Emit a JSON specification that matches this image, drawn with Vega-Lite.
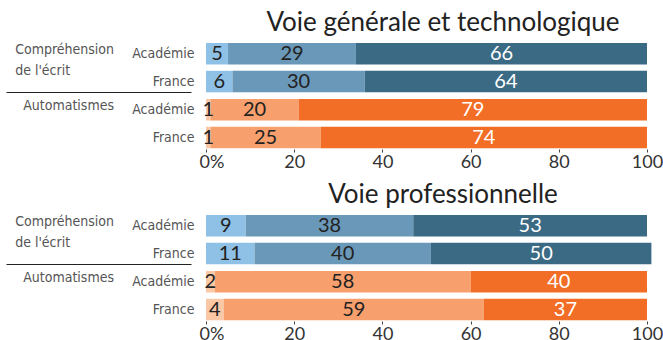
{
  "$schema": "https://vega.github.io/schema/vega-lite/v6.json",
  "background": "white",
  "padding": {"left": 5, "top": 10, "right": 0, "bottom": 0},
  "spacing": 11,
  "config": {
    "view": {"stroke": null},
    "font": "Lato",
    "axisX": {
      "domain": false,
      "grid": false,
      "tickColor": "#444",
      "tickSize": 3,
      "labelFontSize": 18,
      "labelColor": "#333",
      "labelPadding": 1,
      "labelFont": "Lato"
    }
  },
  "datasets": {
    "gt": [
      {"group": "Compréhension de l'écrit", "row": "Compréhension de l'écrit|Académie", "level": 1, "cat": "c1", "value": 5},
      {"group": "Compréhension de l'écrit", "row": "Compréhension de l'écrit|Académie", "level": 2, "cat": "c2", "value": 29},
      {"group": "Compréhension de l'écrit", "row": "Compréhension de l'écrit|Académie", "level": 3, "cat": "c3", "value": 66},
      {"group": "Compréhension de l'écrit", "row": "Compréhension de l'écrit|France", "level": 1, "cat": "c1", "value": 6},
      {"group": "Compréhension de l'écrit", "row": "Compréhension de l'écrit|France", "level": 2, "cat": "c2", "value": 30},
      {"group": "Compréhension de l'écrit", "row": "Compréhension de l'écrit|France", "level": 3, "cat": "c3", "value": 64},
      {"group": "Automatismes", "row": "Automatismes|Académie", "level": 1, "cat": "a1", "value": 1},
      {"group": "Automatismes", "row": "Automatismes|Académie", "level": 2, "cat": "a2", "value": 20},
      {"group": "Automatismes", "row": "Automatismes|Académie", "level": 3, "cat": "a3", "value": 79},
      {"group": "Automatismes", "row": "Automatismes|France", "level": 1, "cat": "a1", "value": 1},
      {"group": "Automatismes", "row": "Automatismes|France", "level": 2, "cat": "a2", "value": 25},
      {"group": "Automatismes", "row": "Automatismes|France", "level": 3, "cat": "a3", "value": 74}
    ],
    "pro": [
      {"group": "Compréhension de l'écrit", "row": "Compréhension de l'écrit|Académie", "level": 1, "cat": "c1", "value": 9},
      {"group": "Compréhension de l'écrit", "row": "Compréhension de l'écrit|Académie", "level": 2, "cat": "c2", "value": 38},
      {"group": "Compréhension de l'écrit", "row": "Compréhension de l'écrit|Académie", "level": 3, "cat": "c3", "value": 53},
      {"group": "Compréhension de l'écrit", "row": "Compréhension de l'écrit|France", "level": 1, "cat": "c1", "value": 11},
      {"group": "Compréhension de l'écrit", "row": "Compréhension de l'écrit|France", "level": 2, "cat": "c2", "value": 40},
      {"group": "Compréhension de l'écrit", "row": "Compréhension de l'écrit|France", "level": 3, "cat": "c3", "value": 50},
      {"group": "Automatismes", "row": "Automatismes|Académie", "level": 1, "cat": "a1", "value": 2},
      {"group": "Automatismes", "row": "Automatismes|Académie", "level": 2, "cat": "a2", "value": 58},
      {"group": "Automatismes", "row": "Automatismes|Académie", "level": 3, "cat": "a3", "value": 40},
      {"group": "Automatismes", "row": "Automatismes|France", "level": 1, "cat": "a1", "value": 4},
      {"group": "Automatismes", "row": "Automatismes|France", "level": 2, "cat": "a2", "value": 59},
      {"group": "Automatismes", "row": "Automatismes|France", "level": 3, "cat": "a3", "value": 37}
    ]
  },
  "vconcat": [
    {
      "title": {"text": "Voie générale et technologique", "fontSize": 26, "fontWeight": "normal", "color": "#222", "anchor": "middle", "dx": 109, "offset": 0},
      "data": {"name": "gt"},
      "transform": [
        {"stack": "value", "groupby": ["row"], "sort": [{"field": "level"}], "as": ["v0", "v1"]},
        {"calculate": "(datum.v0 + datum.v1) / 2", "as": "mid"}
      ],
      "facet": {
        "row": {
          "field": "group", "type": "nominal",
          "sort": ["Compréhension de l'écrit", "Automatismes"],
          "title": null,
          "header": {
            "labelOrient": "left", "labelAngle": 0, "labelAlign": "left", "labelAnchor": "end", "labelBaseline": "top",
            "labelFont": "DejaVu Sans Condensed, Liberation Sans", "labelFontSize": 14, "labelColor": "#555", "labelPadding": 92,
            "labelLineHeight": 21,
            "labelExpr": "datum.value == \"Compréhension de l'écrit\" ? ['Compréhension', \"de l'écrit\"] : datum.value"
          }
        }
      },
      "spacing": {"row": 6},
      "bounds": "flush",
      "resolve": {"scale": {"y": "independent"}},
      "spec": {
        "width": 441,
        "height": 49.3,
        "encoding": {
          "y": {
            "field": "row", "type": "nominal", "title": null,
            "scale": {"paddingInner": 0.227, "paddingOuter": 0},
            "axis": {
              "domain": false, "tickBand": "extent", "tickSize": 185, "offset": 15, "labelPadding": -188,
              "tickColor": "#222", "tickWidth": 1.2,
              "tickOpacity": {"condition": {"test": "datum.value == \"Compréhension de l'écrit|France\"", "value": 1}, "value": 0},
              "labelAlign": "right", "labelFont": "DejaVu Sans Condensed, Liberation Sans", "labelFontSize": 14, "labelColor": "#555",
              "labelExpr": "split(datum.value, '|')[1]"
            }
          }
        },
        "layer": [
          {
            "mark": {"type": "bar"},
            "encoding": {
              "x": {
                "field": "v0", "type": "quantitative", "title": null,
                "scale": {"domain": [0, 100], "nice": false},
                "axis": {
                  "values": [0, 20, 40, 60, 80, 100],
                  "labelExpr": "datum.value == 0 ? '0%' : datum.label",
                  "labelAlign": {"condition": {"test": "datum.value == 0", "value": "left"}, "value": "center"},
                  "labelOffset": {"condition": {"test": "datum.value == 0", "value": -7}, "value": 0}
                }
              },
              "x2": {"field": "v1"},
              "color": {
                "field": "cat", "type": "nominal", "legend": null,
                "scale": {"domain": ["c1", "c2", "c3", "a1", "a2", "a3"], "range": ["#8fc0e6", "#6a98b8", "#3b6a84", "#fbc8a5", "#f8a06d", "#f26e26"]}
              }
            }
          },
          {
            "mark": {"type": "text", "fontSize": 20, "font": "Lato"},
            "encoding": {
              "x": {"field": "mid", "type": "quantitative"},
              "text": {"field": "value", "type": "quantitative"},
              "color": {"condition": {"test": "datum.level == 3", "value": "white"}, "value": "#222"}
            }
          }
        ]
      }
    },
    {
      "title": {"text": "Voie professionnelle", "fontSize": 26, "fontWeight": "normal", "color": "#222", "anchor": "middle", "dx": 109, "offset": 0},
      "data": {"name": "pro"},
      "transform": [
        {"stack": "value", "groupby": ["row"], "sort": [{"field": "level"}], "as": ["v0", "v1"]},
        {"calculate": "(datum.v0 + datum.v1) / 2", "as": "mid"}
      ],
      "facet": {
        "row": {
          "field": "group", "type": "nominal",
          "sort": ["Compréhension de l'écrit", "Automatismes"],
          "title": null,
          "header": {
            "labelOrient": "left", "labelAngle": 0, "labelAlign": "left", "labelAnchor": "end", "labelBaseline": "top",
            "labelFont": "DejaVu Sans Condensed, Liberation Sans", "labelFontSize": 14, "labelColor": "#555", "labelPadding": 92,
            "labelLineHeight": 21,
            "labelExpr": "datum.value == \"Compréhension de l'écrit\" ? ['Compréhension', \"de l'écrit\"] : datum.value"
          }
        }
      },
      "spacing": {"row": 6},
      "bounds": "flush",
      "resolve": {"scale": {"y": "independent"}},
      "spec": {
        "width": 441,
        "height": 49.3,
        "encoding": {
          "y": {
            "field": "row", "type": "nominal", "title": null,
            "scale": {"paddingInner": 0.227, "paddingOuter": 0},
            "axis": {
              "domain": false, "tickBand": "extent", "tickSize": 185, "offset": 15, "labelPadding": -188,
              "tickColor": "#222", "tickWidth": 1.2,
              "tickOpacity": {"condition": {"test": "datum.value == \"Compréhension de l'écrit|France\"", "value": 1}, "value": 0},
              "labelAlign": "right", "labelFont": "DejaVu Sans Condensed, Liberation Sans", "labelFontSize": 14, "labelColor": "#555",
              "labelExpr": "split(datum.value, '|')[1]"
            }
          }
        },
        "layer": [
          {
            "mark": {"type": "bar"},
            "encoding": {
              "x": {
                "field": "v0", "type": "quantitative", "title": null,
                "scale": {"domain": [0, 100], "nice": false},
                "axis": {
                  "values": [0, 20, 40, 60, 80, 100],
                  "labelExpr": "datum.value == 0 ? '0%' : datum.label",
                  "labelAlign": {"condition": {"test": "datum.value == 0", "value": "left"}, "value": "center"},
                  "labelOffset": {"condition": {"test": "datum.value == 0", "value": -7}, "value": 0}
                }
              },
              "x2": {"field": "v1"},
              "color": {
                "field": "cat", "type": "nominal", "legend": null,
                "scale": {"domain": ["c1", "c2", "c3", "a1", "a2", "a3"], "range": ["#8fc0e6", "#6a98b8", "#3b6a84", "#fbc8a5", "#f8a06d", "#f26e26"]}
              }
            }
          },
          {
            "mark": {"type": "text", "fontSize": 20, "font": "Lato"},
            "encoding": {
              "x": {"field": "mid", "type": "quantitative"},
              "text": {"field": "value", "type": "quantitative"},
              "color": {"condition": {"test": "datum.level == 3", "value": "white"}, "value": "#222"}
            }
          }
        ]
      }
    }
  ]
}
